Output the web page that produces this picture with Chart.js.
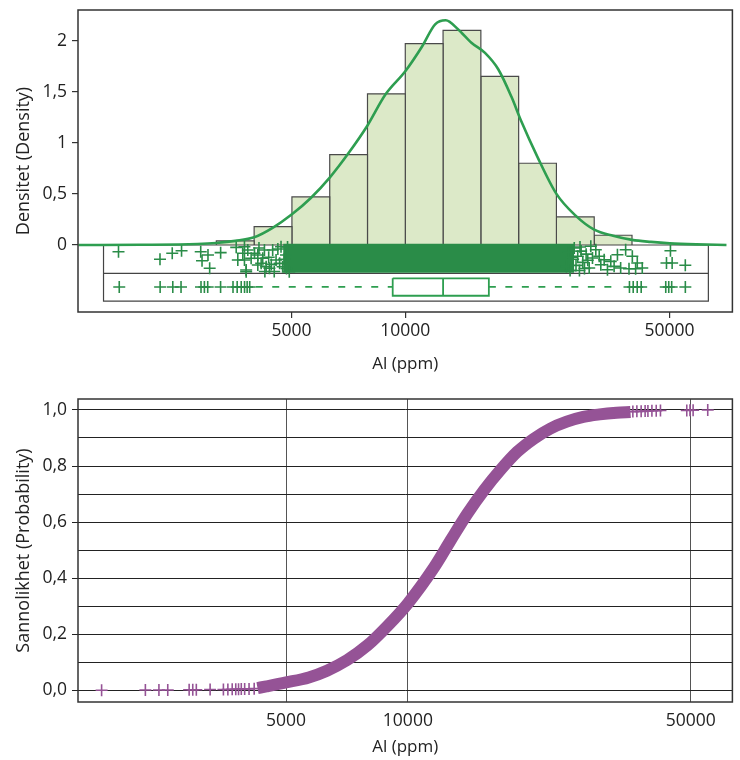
<!DOCTYPE html>
<html><head><meta charset="utf-8">
<script src="https://cdn.jsdelivr.net/npm/chart.js@4"></script>
<style>
html,body{margin:0;padding:0;background:#fff;width:740px;height:760px;overflow:hidden;}
canvas{position:absolute;left:0;}
#c1{top:0;}
#c2{top:380px;}
</style></head><body>
<canvas id="c1" width="740" height="380" style="width:740px;height:380px"></canvas>
<canvas id="c2" width="740" height="380" style="width:740px;height:380px"></canvas>
<script>
// ---------------- DATA ----------------
const xTickValues = [5000, 10000, 50000];
const densityTickValues = [0, 0.5, 1, 1.5, 2];
const probTickValues = [0, 0.1, 0.2, 0.3, 0.4, 0.5, 0.6, 0.7, 0.8, 0.9, 1.0];

// histogram (density per log10 unit), bin edges in ppm
const binEdges = [3162, 3981, 5012, 6310, 7943, 10000, 12589, 15849, 19953, 25119, 31623, 39811];
const binDensity = [0.04, 0.18, 0.47, 0.885, 1.48, 1.97, 2.10, 1.65, 0.80, 0.275, 0.095];

// kernel density curve
const kdeX = [1365, 1995, 2818, 3162, 3548, 3981, 4467, 5012, 5623, 6310, 7079, 7943, 8851, 10000, 11066, 11995, 12794, 13804, 14962, 16255, 17620, 19099, 20277, 22387, 25119, 28184, 31623, 35481, 39811, 44668, 50119, 58884, 70795];
const kdeY = [0, 0.002, 0.010, 0.020, 0.040, 0.075, 0.17, 0.30, 0.46, 0.66, 0.90, 1.17, 1.47, 1.70, 1.94, 2.16, 2.20, 2.11, 1.98, 1.88, 1.72, 1.45, 1.21, 0.86, 0.50, 0.29, 0.15, 0.09, 0.05, 0.03, 0.016, 0.006, 0];

// jittered strip: sparse points (ppm, jitter offset) and dense core range
const stripLowX = [1742, 2243, 2417, 2558, 2875, 2898, 3005, 3036, 3246, 3569, 3604, 3715, 3753, 3753, 3792, 3792, 3830, 3909, 3990, 4071, 4071, 4100, 4155, 4195, 4239, 4250, 4283, 4350, 4370, 4420, 4457, 4500, 4550, 4600, 4650, 4690, 4735, 4780, 4833, 4850, 4880, 4931];
const stripLowY = [-0.066, -0.140, -0.081, -0.056, -0.066, -0.154, -0.098, -0.228, -0.075, -0.023, -0.147, -0.081, -0.017, -0.147, -0.262, -0.245, -0.049, -0.130, -0.081, -0.098, -0.196, -0.030, -0.179, -0.130, -0.049, -0.260, -0.213, -0.120, -0.228, -0.190, -0.049, -0.260, -0.147, -0.040, -0.180, -0.017, -0.213, -0.140, -0.098, -0.230, -0.020, -0.262];
const stripHighX = [26700, 27000, 27300, 27500, 27800, 28000, 28300, 28600, 28900, 29000, 29200, 29500, 29800, 30100, 30400, 30670, 30970, 31290, 31930, 32600, 32920, 33600, 34280, 34980, 35700, 36430, 37150, 38300, 39090, 39890, 40700, 41110, 42380, 49120, 50320, 50840, 55090];
const stripHighY = [-0.210, -0.070, -0.250, -0.120, -0.140, -0.030, -0.200, -0.110, -0.250, -0.020, -0.060, -0.170, -0.230, -0.090, -0.150, -0.225, -0.013, -0.127, -0.046, -0.111, -0.193, -0.144, -0.242, -0.160, -0.209, -0.095, -0.225, -0.046, -0.232, -0.111, -0.232, -0.176, -0.225, -0.176, -0.056, -0.176, -0.199];
const stripDenseRange = [4750, 28000];

// box plot
const boxQuartiles = [9262, 12590, 16640];   // Q1, median, Q3
const whiskerEnds = [4020, 35980];
const lowOutliers = [1750, 2245, 2425, 2550, 2880, 2940, 3000, 3245, 3500, 3590, 3680, 3755, 3815, 3875];
const highOutliers = [39200, 40100, 41100, 42100, 48900, 49800, 50700, 55100];

// empirical cumulative distribution
const ecdfLowTailX = [1750, 2245, 2425, 2550, 2880, 2940, 3000, 3245, 3500, 3590, 3680, 3755, 3815, 3875, 3950, 4050, 4170];
const ecdfLowTailP = [0.000, 0.001, 0.001, 0.001, 0.002, 0.002, 0.002, 0.003, 0.003, 0.003, 0.004, 0.004, 0.004, 0.005, 0.005, 0.005, 0.006];
const ecdfX = [4250, 4470, 5000, 5690, 6310, 7080, 7940, 8910, 10000, 11630, 12770, 14030, 15430, 16940, 18620, 20460, 22470, 24700, 27140, 29800, 32800, 35500];
const ecdfP = [0.008, 0.014, 0.028, 0.046, 0.070, 0.108, 0.160, 0.230, 0.310, 0.440, 0.536, 0.630, 0.714, 0.786, 0.850, 0.897, 0.933, 0.958, 0.975, 0.984, 0.990, 0.993];
const ecdfHighTailX = [35980, 36810, 37720, 38580, 39200, 40100, 41100, 42100, 48900, 49800, 50700, 55100];
const ecdfHighTailP = [0.994, 0.995, 0.995, 0.996, 0.996, 0.997, 0.997, 0.998, 0.998, 0.999, 0.999, 1.000];

// ---------------- LAYOUT / STYLE ----------------
const FONT = "'Open Sans', sans-serif";
const TXT = '#222';
const GREEN = '#2a8c48';
const CURVE = '#2e9e50';
const PURPLE = '#955396';
const stripBounds = [1590, 63400];          // x extent of strip frame
const lv = {top: 0, mid: -0.277, bottom: -0.549, row: -0.411, boxTop: -0.326, boxBot: -0.497, denseTop: 0.012, denseBot: -0.272};

const framePlugin = {
  id: 'frame',
  afterDraw(chart) {
    const {ctx, chartArea: a} = chart;
    ctx.save();
    ctx.strokeStyle = '#333';
    ctx.lineWidth = 1.5;
    ctx.strokeRect(a.left, a.top, a.right - a.left, a.bottom - a.top);
    ctx.restore();
  }
};

function pts(xs, ys) { return xs.map((x, i) => ({x, y: ys[i]})); }
function line(data, o) {
  return Object.assign({data, showLine: true, pointRadius: 0, pointHoverRadius: 0, borderWidth: 1, tension: 0, fill: false}, o);
}
function crosses(data, color, o) {
  return Object.assign({data, showLine: false, pointStyle: 'cross', pointRadius: 6, pointHoverRadius: 6,
    pointBorderWidth: 1.6, pointBorderColor: color, borderColor: color, backgroundColor: color}, o);
}
function noPadX(s, h) { s.height = h; s.paddingLeft = 0; s.paddingRight = 0; }
function noPadY(s) { s.width = 78; s.paddingTop = 0; s.paddingBottom = 0; }

// ---------------- TOP CHART ----------------
const topSets = [];
topSets.push(line(pts(kdeX, kdeY), {borderColor: CURVE, borderWidth: 2.6, cubicInterpolationMode: 'monotone', order: 1}));
const [q1, med, q3] = boxQuartiles;
topSets.push(line([{x:q1,y:lv.boxTop},{x:q3,y:lv.boxTop},{x:q3,y:lv.boxBot},{x:q1,y:lv.boxBot},{x:q1,y:lv.boxTop}], {borderColor: CURVE, borderWidth: 1.8, order: 2}));
topSets.push(line([{x:med,y:lv.boxTop},{x:med,y:lv.boxBot}], {borderColor: CURVE, borderWidth: 1.8, order: 2}));
topSets.push(line([{x:whiskerEnds[0],y:lv.row},{x:q1,y:lv.row}], {borderColor: CURVE, borderWidth: 1.8, borderDash: [7, 9.5], order: 2}));
topSets.push(line([{x:q3,y:lv.row},{x:whiskerEnds[1],y:lv.row}], {borderColor: CURVE, borderWidth: 1.8, borderDash: [7, 9.5], order: 2}));
topSets.push(crosses(lowOutliers.map(x => ({x, y: lv.row})), GREEN, {order: 3}));
topSets.push(crosses(highOutliers.map(x => ({x, y: lv.row})), GREEN, {order: 3}));
topSets.push(crosses(pts(stripLowX, stripLowY), GREEN, {order: 3}));
topSets.push(crosses(pts(stripHighX, stripHighY), GREEN, {order: 3}));
const denseTopIdx = topSets.length;
topSets.push(line([{x:stripDenseRange[0],y:lv.denseTop},{x:stripDenseRange[1],y:lv.denseTop}], {borderWidth: 0, borderColor: GREEN, fill: {target: denseTopIdx + 1}, backgroundColor: GREEN, order: 4}));
topSets.push(line([{x:stripDenseRange[0],y:lv.denseBot},{x:stripDenseRange[1],y:lv.denseBot}], {borderWidth: 0, borderColor: GREEN, order: 4}));
topSets.push(line([{x:stripBounds[0],y:lv.top},{x:stripBounds[1],y:lv.top},{x:stripBounds[1],y:lv.bottom},{x:stripBounds[0],y:lv.bottom},{x:stripBounds[0],y:lv.top}], {borderColor: '#444', borderWidth: 1.2, order: 5}));
topSets.push(line([{x:stripBounds[0],y:lv.mid},{x:stripBounds[1],y:lv.mid}], {borderColor: '#444', borderWidth: 1.2, order: 5}));
binDensity.forEach((h, i) => {
  const lo = binEdges[i], hi = binEdges[i + 1];
  topSets.push(line([{x:lo,y:0},{x:lo,y:h},{x:hi,y:h},{x:hi,y:0}], {borderColor: '#4a4a4a', borderWidth: 1.2, fill: 'origin', backgroundColor: '#dce9c8', order: 6}));
});

new Chart(document.getElementById('c1'), {
  type: 'line',
  data: {datasets: topSets},
  plugins: [framePlugin],
  options: {
    responsive: false, animation: false, events: [],
    layout: {padding: {top: 10, right: 4, left: 0, bottom: 0}},
    plugins: {legend: {display: false}, tooltip: {enabled: false}},
    scales: {
      x: {
        type: 'logarithmic', min: 1361, max: 73400,
        afterBuildTicks: s => { s.ticks = xTickValues.map(v => ({value: v, major: true})); },
        afterFit: s => noPadX(s, 68),
        grid: {drawOnChartArea: false, drawTicks: true, tickLength: 6, color: '#333', lineWidth: 1.2},
        border: {display: false},
        ticks: {color: TXT, font: {family: FONT, size: 17.5}, padding: 3, maxRotation: 0, autoSkip: false,
          callback: v => String(v)},
        title: {display: true, text: 'Al (ppm)', color: TXT, font: {family: FONT, size: 17}, padding: {top: 0, bottom: 6}}
      },
      y: {
        type: 'linear', min: -0.656, max: 2.30,
        afterBuildTicks: s => { s.ticks = densityTickValues.map(v => ({value: v})); },
        afterFit: noPadY,
        grid: {drawOnChartArea: false, drawTicks: true, tickLength: 6, color: '#333', lineWidth: 1.2},
        border: {display: false},
        ticks: {color: TXT, font: {family: FONT, size: 17.5}, padding: 5,
          callback: v => String(v).replace('.', ',')},
        title: {display: true, text: 'Densitet (Density)', color: TXT, font: {family: FONT, size: 18}, padding: {top: 13, bottom: 0}}
      }
    }
  }
});

// ---------------- BOTTOM CHART ----------------
const botSets = [
  crosses(pts(ecdfLowTailX, ecdfLowTailP), PURPLE, {order: 1}),
  crosses(pts(ecdfHighTailX, ecdfHighTailP), PURPLE, {order: 1}),
  line(pts(ecdfX, ecdfP), {borderColor: PURPLE, borderWidth: 12, cubicInterpolationMode: 'monotone', order: 2})
];

new Chart(document.getElementById('c2'), {
  type: 'line',
  data: {datasets: botSets},
  plugins: [framePlugin],
  options: {
    responsive: false, animation: false, events: [],
    layout: {padding: {top: 19, right: 4, left: 0, bottom: 0}},
    plugins: {legend: {display: false}, tooltip: {enabled: false}},
    scales: {
      x: {
        type: 'logarithmic', min: 1530, max: 63400,
        afterBuildTicks: s => { s.ticks = xTickValues.map(v => ({value: v, major: true})); },
        afterFit: s => noPadX(s, 58),
        grid: {drawOnChartArea: true, drawTicks: false, color: '#555', lineWidth: 1},
        border: {display: false},
        ticks: {color: TXT, font: {family: FONT, size: 17.5}, padding: 9, maxRotation: 0, autoSkip: false,
          callback: v => String(v)},
        title: {display: true, text: 'Al (ppm)', color: TXT, font: {family: FONT, size: 17}, padding: {top: 0, bottom: 3}}
      },
      y: {
        type: 'linear', min: -0.0417, max: 1.039,
        afterBuildTicks: s => { s.ticks = probTickValues.map(v => ({value: v})); },
        afterFit: noPadY,
        grid: {drawOnChartArea: true, drawTicks: true, tickLength: 6, color: '#222', lineWidth: 1,
          tickColor: c => (Math.round(c.tick.value * 10) % 2 === 0 ? '#222' : 'rgba(0,0,0,0)')},
        border: {display: false},
        ticks: {color: TXT, font: {family: FONT, size: 17.5}, padding: 5,
          callback: v => (Math.round(v * 10) % 2 === 0 ? v.toFixed(1).replace('.', ',') : '')},
        title: {display: true, text: 'Sannolikhet (Probability)', color: TXT, font: {family: FONT, size: 18}, padding: {top: 13, bottom: 0}}
      }
    }
  }
});
</script>
</body></html>
